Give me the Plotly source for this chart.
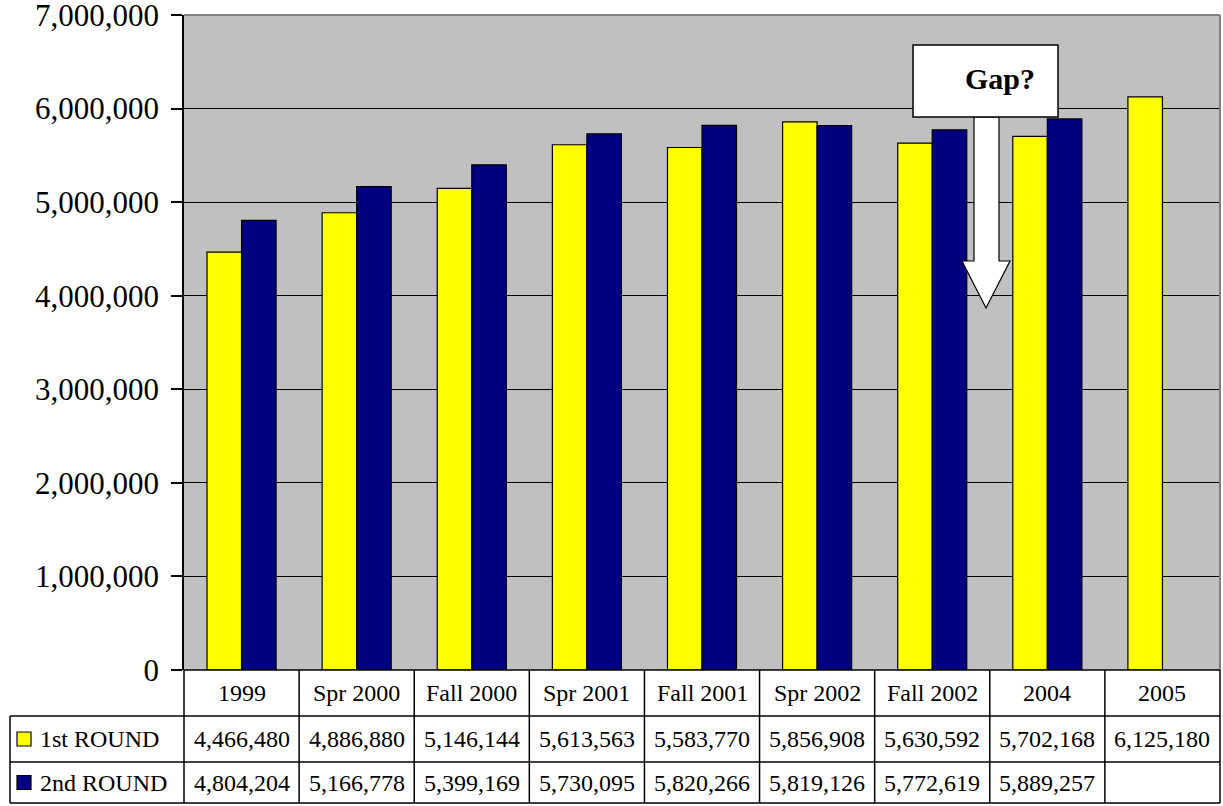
import plotly.graph_objects as go

# Enrollment by survey round
categories = ["1999", "Spr 2000", "Fall 2000", "Spr 2001", "Fall 2001",
              "Spr 2002", "Fall 2002", "2004", "2005"]
first_round = [4466480, 4886880, 5146144, 5613563, 5583770,
               5856908, 5630592, 5702168, 6125180]
second_round = [4804204, 5166778, 5399169, 5730095, 5820266,
                5819126, 5772619, 5889257, None]
series_names = ["1st ROUND", "2nd ROUND"]
series_colors = ["#FFFF00", "#000080"]
y_ticks = list(range(0, 7000001, 1000000))

W, H = 1223, 806
L, R, T, B = 184, 3, 15, 136
PW, PH = W - L - R, H - T - B
FONT = "Liberation Serif, Times New Roman, serif"


def px(x):
    """pixel x -> paper x"""
    return (x - L) / PW


def py(y):
    """pixel y -> paper y"""
    return (H - B - y) / PH


fig = go.Figure()
for name, vals, col in zip(series_names, [first_round, second_round], series_colors):
    fig.add_trace(go.Bar(
        x=categories, y=vals, name=name,
        marker=dict(color=col, line=dict(color="black", width=1.2)),
        showlegend=False,
    ))

shapes = []
annotations = []

# plot-area frame: grey top/right edges
shapes.append(dict(type="line", xref="paper", yref="paper", x0=0, x1=1, y0=1, y1=1,
                   line=dict(color="#808080", width=2)))
shapes.append(dict(type="line", xref="paper", yref="paper", x0=1, x1=1, y0=0, y1=1,
                   line=dict(color="#808080", width=2)))

# data table under the chart
n = len(categories)
row_tops = [670, 716, 762, 803]
line_style = dict(color="black", width=1.5)
# horizontal lines
shapes.append(dict(type="line", xref="paper", yref="paper", x0=0, x1=1,
                   y0=py(row_tops[0]), y1=py(row_tops[0]), line=line_style))
for yy in row_tops[1:]:
    shapes.append(dict(type="line", xref="paper", yref="paper", x0=px(10), x1=1,
                       y0=py(yy), y1=py(yy), line=line_style))
# vertical lines
for k in range(n + 1):
    shapes.append(dict(type="line", xref="paper", yref="paper", x0=k / n, x1=k / n,
                       y0=py(row_tops[0]), y1=py(row_tops[-1]), line=line_style))
shapes.append(dict(type="line", xref="paper", yref="paper", x0=px(10), x1=px(10),
                   y0=py(row_tops[1]), y1=py(row_tops[-1]), line=line_style))

tfont = dict(family=FONT, size=24, color="black")
# category row (x given as category index on the category axis)
for i, c in enumerate(categories):
    annotations.append(dict(x=i, xref="x", y=py((row_tops[0] + row_tops[1]) / 2), yref="paper",
                            text=c, showarrow=False, font=tfont, xanchor="center", yanchor="middle"))
# value rows with legend keys
for r, (name, vals, col) in enumerate(zip(series_names, [first_round, second_round], series_colors)):
    yc = (row_tops[r + 1] + row_tops[r + 2]) / 2
    shapes.append(dict(type="rect", xref="paper", yref="paper",
                       x0=px(17), x1=px(31), y0=py(yc - 7), y1=py(yc + 7),
                       fillcolor=col, line=dict(color="black", width=1.2)))
    annotations.append(dict(x=px(38), xref="paper", y=py(yc), yref="paper", text=name,
                            showarrow=False, font=tfont, xanchor="left", yanchor="middle"))
    for i, v in enumerate(vals):
        if v is None:
            continue
        annotations.append(dict(x=i, xref="x", y=py(yc), yref="paper", text=f"{v:,}",
                                showarrow=False, font=tfont, xanchor="center", yanchor="middle"))

# "Gap?" callout with downward arrow
arrow_pts = [(974, 117), (999, 117), (999, 261), (1010, 261), (986, 308), (962, 261), (974, 261)]
path = "M " + " L ".join(f"{px(a):.5f},{py(b):.5f}" for a, b in arrow_pts) + " Z"
shapes.append(dict(type="path", xref="paper", yref="paper", path=path,
                   fillcolor="white", line=dict(color="black", width=1.2)))
shapes.append(dict(type="rect", xref="paper", yref="paper",
                   x0=px(913), x1=px(1058), y0=py(117), y1=py(45),
                   fillcolor="white", line=dict(color="black", width=1.5)))
annotations.append(dict(x=px(1000), xref="paper", y=py(78), yref="paper", text="<b>Gap?</b>",
                        showarrow=False, xanchor="center", yanchor="middle",
                        font=dict(family=FONT, size=30, color="black")))

fig.update_layout(
    width=W, height=H,
    margin=dict(l=L, r=R, t=T, b=B, pad=0),
    paper_bgcolor="white",
    plot_bgcolor="#C0C0C0",
    barmode="group",
    bargap=0.4,
    bargroupgap=0,
    shapes=shapes,
    annotations=annotations,
    xaxis=dict(type="category", range=[-0.5, n - 0.5], showticklabels=False,
               showgrid=False, zeroline=False, ticks="", showline=False,
               automargin=False),
    yaxis=dict(range=[0, 7000000], tickvals=y_ticks, tickformat=",",
               showgrid=True, gridcolor="black", gridwidth=1,
               zeroline=False, showline=True, linecolor="black", linewidth=1.5,
               ticks="outside", ticklen=11, tickcolor="black", tickwidth=1.5,
               ticklabelstandoff=6, ticklabeloverflow="allow", automargin=False,
               tickfont=dict(family=FONT, size=31, color="black")),
)

fig.write_html("out.html")
